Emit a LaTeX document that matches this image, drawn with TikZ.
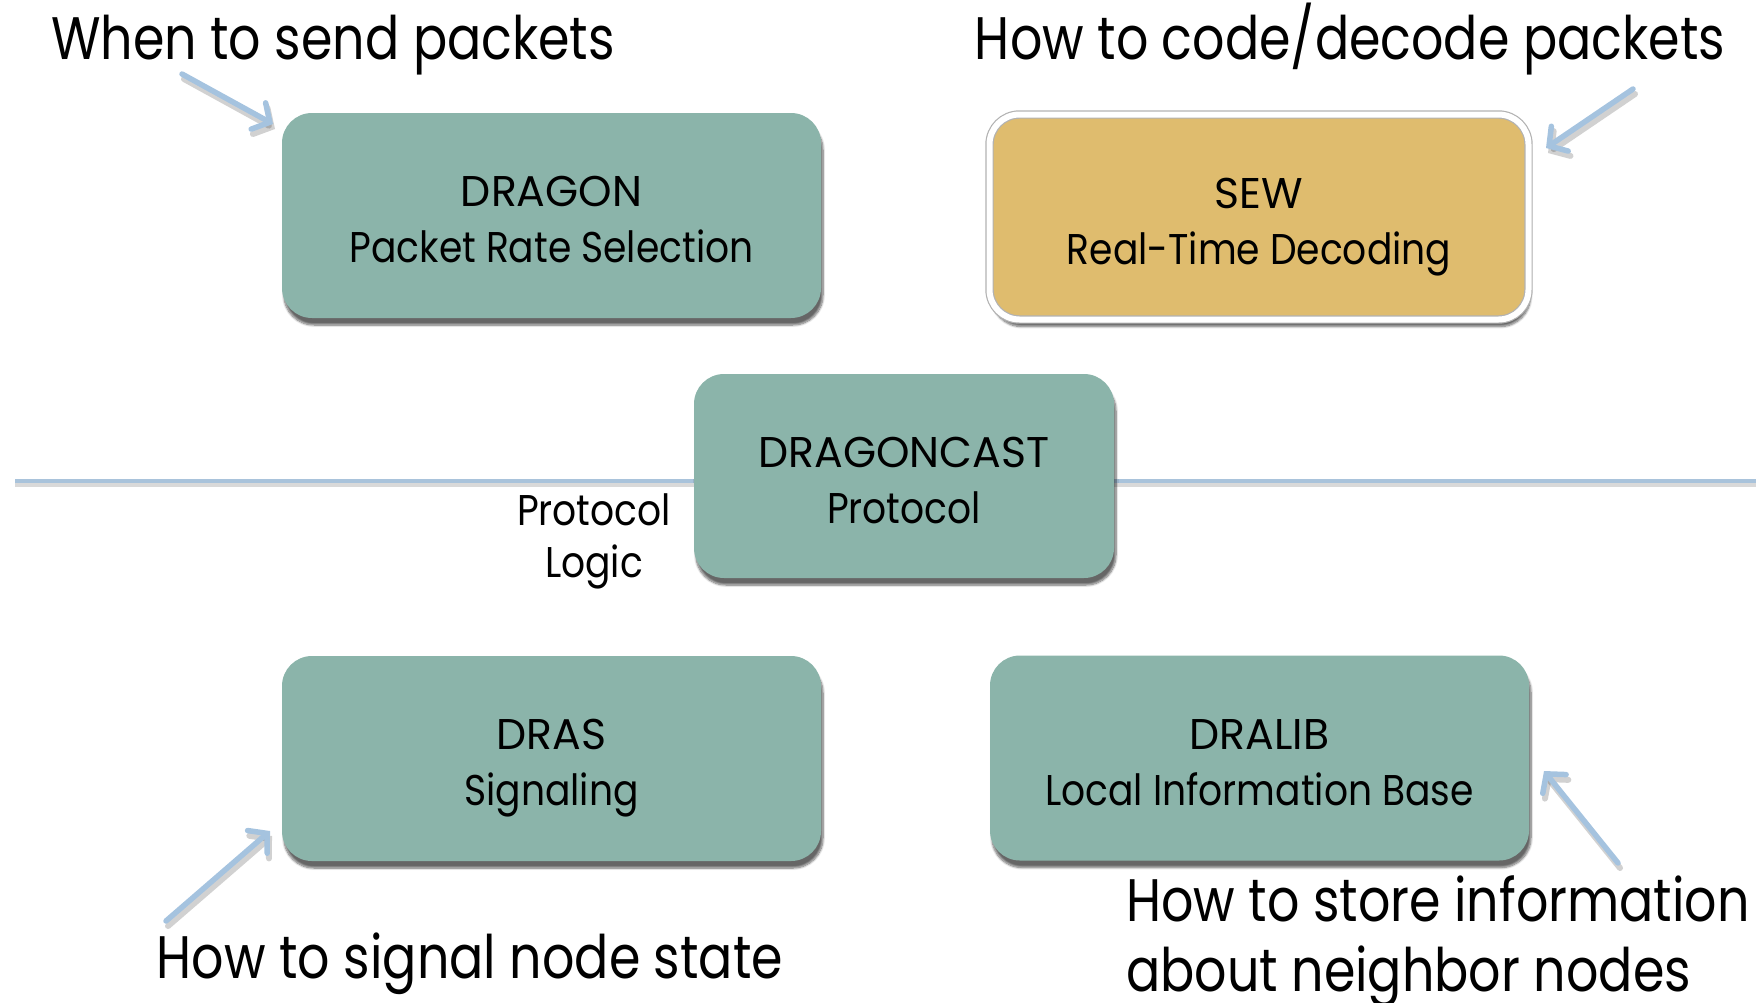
\documentclass[tikz,border=0pt]{standalone}
\usepackage{fontspec}
\setmainfont{Poppins}
\newfontfamily\bigfont[FakeStretch=0.845]{Poppins}
\newfontfamily\boxfont[FakeStretch=0.875]{Poppins}
\newfontfamily\capfont[FakeStretch=0.99]{Poppins}
\usetikzlibrary{arrows.meta,shadows.blur}
\definecolor{boxteal}{HTML}{8BB4AA}
\definecolor{sewgold}{HTML}{DFBC6E}
\definecolor{arrblue}{HTML}{A5C3DF}
\definecolor{lineblue}{HTML}{A9C3DB}
\tikzset{
  x=1pt, y=-1pt,
  boxbase/.style={rounded corners=30pt, minimum width=539pt, minimum height=205pt,
    align=center, inner sep=0pt, font=\boxfont\fontsize{43}{56}\selectfont,
    text height=94pt, text depth=0pt,
    blur shadow={shadow xshift=2pt, shadow yshift=-7pt, shadow blur steps=8, shadow opacity=60}},
  tealbox/.style={boxbase, fill=boxteal},
  goldbox/.style={boxbase, fill=sewgold, draw=gray!60, line width=1.2pt, double=white, double distance=6pt},
  bigtext/.style={font=\bigfont\fontsize{60}{70}\selectfont, inner sep=0pt},
  midtext/.style={font=\boxfont\fontsize{43}{52}\selectfont, inner sep=0pt, align=center},
  hint/.style={draw=arrblue, line width=5.5pt, line cap=round, -{Straight Barb[length=13pt, width=30pt, line cap=round]}},
  hintshadow/.style={draw=black, opacity=0.18, line width=6pt, line cap=round, -{Straight Barb[length=13pt, width=30pt, line cap=round]}},
}
\begin{document}
\begin{tikzpicture}
\useasboundingbox (0,0) rectangle (1756,1002);
% horizontal line
\coordinate (lineL) at (15,481);
\coordinate (lineR) at (1756,481);
\draw[draw=black, opacity=0.15, line width=5pt] ([yshift=-3pt]lineL) -- ([yshift=-3pt]lineR);
\draw[draw=lineblue, line width=4.5pt] (lineL) -- (lineR);
% boxes
\node[tealbox] (dragon) at (551.5,215.5) {{\capfont DRAGON}\\Packet Rate Selection};
\node[goldbox] (sew) at (1259,217) {{\capfont SEW}\\Real-Time Decoding};
\node[tealbox, minimum width=420pt, minimum height=204pt] (cast) at (904,476) {{\capfont DRAGONCAST}\\Protocol};
\node[tealbox] (dras) at (551.5,758.5) {{\capfont DRAS}\\Signaling};
\node[tealbox] (dralib) at (1259.5,758) {{\capfont DRALIB}\\Local Information Base};
% texts
\node[bigtext, anchor=base] (t1) at (333,59) {When to send packets};
\node[bigtext, anchor=base] (t2) at (1350,59) {How to code/decode packets};
\node[midtext, anchor=base] (pl) at (594,577) {Protocol\\Logic};
\node[bigtext, anchor=base] (t3) at (470,978) {How to signal node state};
\node[bigtext, anchor=base west] (t4) at (1126,921) {How to store information};
\node[bigtext, anchor=base west] (t5) at (1126,991) {about neighbor nodes};
% arrows
\coordinate (a1s) at (182,74);  \coordinate (a1e) at (273,124);
\coordinate (a2s) at (1633,89); \coordinate (a2e) at (1546,148);
\coordinate (a3s) at (166,921); \coordinate (a3e) at (270,831);
\coordinate (a4s) at (1618,863);\coordinate (a4e) at (1544,771);
\foreach \s/\e in {a1s/a1e,a2s/a2e,a3s/a3e,a4s/a4e}{
  \draw[hintshadow] ([xshift=2pt,yshift=-5pt]\s) -- ([xshift=2pt,yshift=-5pt]\e);
  \draw[hint] (\s) -- (\e);
}
\end{tikzpicture}
\end{document}
